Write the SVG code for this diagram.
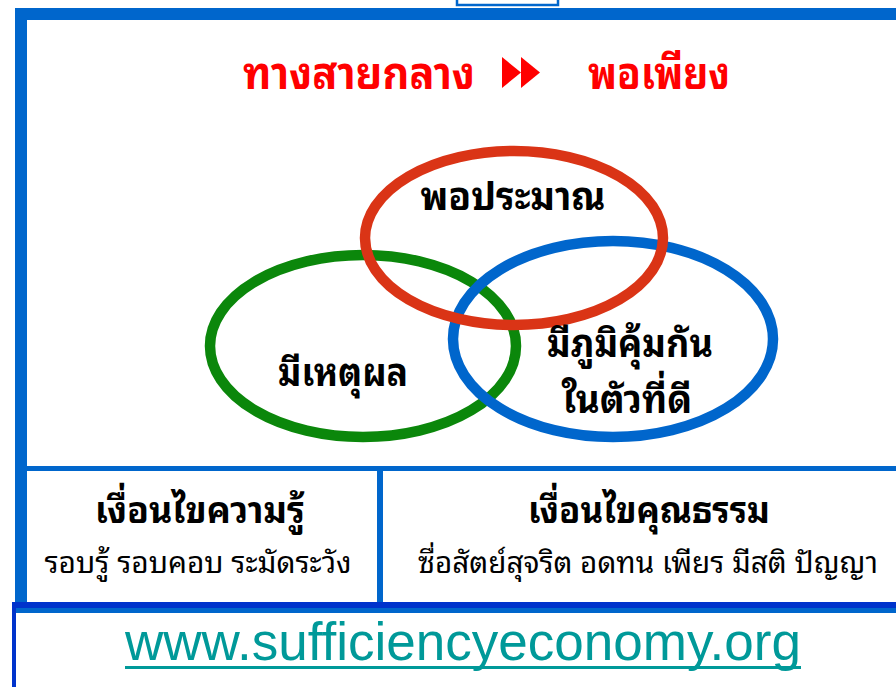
<svg xmlns="http://www.w3.org/2000/svg" width="896" height="687" viewBox="0 0 896 687">
<style>
.th{font-family:"Noto Sans Thai Looped","Noto Serif Thai","Noto Sans Thai","Noto Sans","Liberation Sans",sans-serif;text-anchor:middle;}
.b{font-weight:bold;}
.ring{fill:none;stroke-width:10.5;}
</style>
<rect x="0" y="0" width="896" height="687" fill="#ffffff"/>
<g id="frame">
<rect x="457" y="-5" width="101" height="10" fill="#ffffff" stroke="#0066cc" stroke-width="2.5"/>
<rect x="15" y="8" width="885" height="12" fill="#0066cc"/>
<rect x="15" y="8" width="12" height="598" fill="#0066cc"/>
<rect x="15" y="466" width="885" height="5" fill="#0066cc"/>
<rect x="377" y="466" width="6" height="140" fill="#0066cc"/>
<rect x="12" y="602" width="888" height="6" fill="#0033cc"/>
<rect x="16" y="608" width="884" height="5" fill="#0066cc"/>
<rect x="12" y="602" width="4" height="85" fill="#0033cc"/>
</g>
<g id="title">
<text class="th b" x="359" y="89" font-size="46" fill="#ff0000" textLength="232" lengthAdjust="spacingAndGlyphs">ทางสายกลาง</text>
<polygon points="502,57 521,72.5 502,88" fill="#ff0000"/>
<polygon points="521,57 540,72.5 521,88" fill="#ff0000"/>
<text class="th b" x="659" y="89" font-size="46" fill="#ff0000" textLength="142" lengthAdjust="spacingAndGlyphs">พอเพียง</text>
</g>
<g id="venn">
<ellipse id="ring-green" class="ring" cx="363" cy="346" rx="153" ry="91" stroke="#0b870b"/>
<ellipse id="ring-blue" class="ring" cx="613" cy="339" rx="160" ry="98" stroke="#0066cc"/>
<ellipse id="ring-red" class="ring" cx="514" cy="238" rx="149" ry="87" stroke="#da3416"/>
</g>
<g id="node-poprama">
<text class="th b" x="513" y="210" font-size="38" fill="#000000" textLength="185" lengthAdjust="spacingAndGlyphs">พอประมาณ</text>
</g>
<g id="node-mihetphon">
<text class="th b" x="343" y="386" font-size="38" fill="#000000" textLength="130" lengthAdjust="spacingAndGlyphs">มีเหตุผล</text>
</g>
<g id="node-phumikhumkan">
<text class="th b" x="630" y="357" font-size="38" fill="#000000" textLength="166" lengthAdjust="spacingAndGlyphs">มีภูมิคุ้มกัน</text>
<text class="th b" x="627" y="413" font-size="38" fill="#000000" textLength="130" lengthAdjust="spacingAndGlyphs">ในตัวที่ดี</text>
</g>
<g id="node-knowledge">
<text class="th b" x="200" y="523" font-size="36" fill="#000000" textLength="210" lengthAdjust="spacingAndGlyphs">เงื่อนไขความรู้</text>
<text class="th" x="198" y="573" font-size="29" fill="#000000" textLength="307" lengthAdjust="spacingAndGlyphs">รอบรู้ รอบคอบ ระมัดระวัง</text>
</g>
<g id="node-morality">
<text class="th b" x="649" y="523" font-size="36" fill="#000000" textLength="242" lengthAdjust="spacingAndGlyphs">เงื่อนไขคุณธรรม</text>
<text class="th" x="648" y="573" font-size="29" fill="#000000" textLength="460" lengthAdjust="spacingAndGlyphs">ซื่อสัตย์สุจริต อดทน เพียร มีสติ ปัญญา</text>
</g>
<g id="connectors"></g>
<g id="footer">
<text x="125" y="660" font-family="'Liberation Sans',Arial,sans-serif" font-size="54" fill="#009999" textLength="676" lengthAdjust="spacingAndGlyphs">www.sufficiencyeconomy.org</text>
<rect x="125" y="666" width="676" height="3" fill="#009999"/>
</g>
</svg>
